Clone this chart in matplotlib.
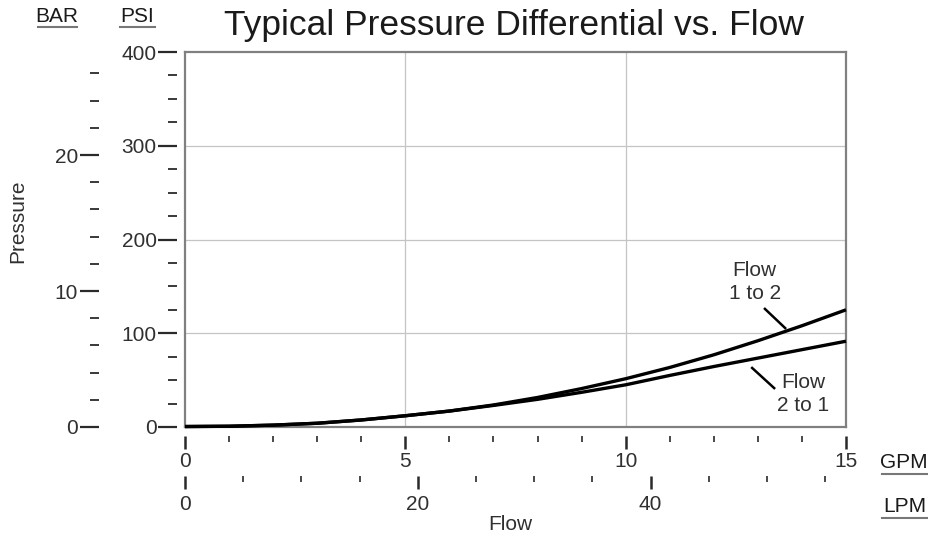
import matplotlib
matplotlib.use("Agg")
import matplotlib.pyplot as plt
from matplotlib.ticker import MultipleLocator, FixedLocator
from matplotlib.lines import Line2D

plt.rcParams["font.family"] = ["Liberation Sans", "DejaVu Sans"]

# flow in GPM, pressure in PSI
gpm = [0, 1, 2, 3, 4, 5, 6, 7, 8, 9, 10, 11, 12, 13, 14, 15]
psi_1to2 = [0.5, 0.8, 2, 4, 7.5, 12, 17, 23.5, 31.5, 41, 51.5, 63.5, 77, 92, 108, 125]
psi_2to1 = [0.5, 0.8, 2, 4, 7.5, 12, 17, 23, 29.5, 37, 45, 55, 64.5, 73.5, 82.5, 91.5]

PSI_PER_BAR = 14.5038
LPM_PER_GPM = 3.78541

W, H = 929, 542
fig = plt.figure(figsize=(W / 100, H / 100), dpi=100)
x0, x1, y0, y1 = 185, 846, 52, 427
ax = fig.add_axes([x0 / W, 1 - y1 / H, (x1 - x0) / W, (y1 - y0) / H])

ax.plot(gpm, psi_1to2, color="black", lw=2.4, solid_capstyle="butt", zorder=3, clip_on=False)
ax.plot(gpm, psi_2to1, color="black", lw=2.4, solid_capstyle="butt", zorder=3, clip_on=False)

ax.set_xlim(0, 15)
ax.set_ylim(0, 400)
ax.set_xticks([5, 10])
ax.set_yticks([100, 200, 300])
ax.grid(True, color="#c4c4c4", lw=0.9)
ax.tick_params(length=0, labelleft=False, labelbottom=False)
for s in ax.spines.values():
    s.set_color("#808080")
    s.set_linewidth(1.6)

tick_col = "#2a2a2a"
lab_col = "#303030"
fs = 15

# PSI scale
psi_ax = ax.secondary_yaxis(-8 / (x1 - x0))
psi_ax.yaxis.set_major_locator(MultipleLocator(100))
psi_ax.yaxis.set_minor_locator(MultipleLocator(25))
psi_ax.tick_params(which="major", length=14, width=1.6, color=tick_col, labelsize=fs,
                   labelcolor=lab_col, pad=0.5)
psi_ax.tick_params(which="minor", length=6.5, width=1.3, color=tick_col)

# BAR scale
bar_ax = ax.secondary_yaxis(-86 / (x1 - x0),
                            functions=(lambda p: p / PSI_PER_BAR, lambda b: b * PSI_PER_BAR))
bar_ax.yaxis.set_major_locator(FixedLocator([0, 10, 20]))
bar_ax.yaxis.set_minor_locator(MultipleLocator(2))
bar_ax.tick_params(which="major", length=14, width=1.6, color=tick_col, labelsize=fs,
                   labelcolor=lab_col, pad=1)
bar_ax.tick_params(which="minor", length=6.5, width=1.3, color=tick_col)

# GPM scale
gpm_ax = ax.secondary_xaxis(-9 / (y1 - y0))
gpm_ax.xaxis.set_major_locator(MultipleLocator(5))
gpm_ax.xaxis.set_minor_locator(MultipleLocator(1))
gpm_ax.tick_params(which="major", length=9.5, width=1.8, color=tick_col, labelsize=fs,
                   labelcolor=lab_col, pad=2)
gpm_ax.tick_params(which="minor", length=4.5, width=1.2, color=tick_col)

# LPM scale
lpm_ax = ax.secondary_xaxis(-49 / (y1 - y0),
                            functions=(lambda g: g * LPM_PER_GPM, lambda l: l / LPM_PER_GPM))
lpm_ax.xaxis.set_major_locator(MultipleLocator(20))
lpm_ax.xaxis.set_minor_locator(MultipleLocator(5))
lpm_ax.tick_params(which="major", length=9, width=1.8, color=tick_col, labelsize=fs,
                   labelcolor=lab_col, pad=5)
lpm_ax.tick_params(which="minor", length=4.5, width=1.2, color=tick_col)

for sa in (psi_ax, bar_ax, gpm_ax, lpm_ax):
    for s in sa.spines.values():
        s.set_visible(False)

# curve labels with leader lines
ax.text(12.93, 155, "Flow\n1 to 2", ha="center", va="center", fontsize=fs,
        linespacing=1.25, color=lab_col)
ax.plot([13.16, 13.62], [126, 105.5], color="black", lw=1.8)
ax.text(14.02, 35, "Flow\n2 to 1", ha="center", va="center", fontsize=fs,
        linespacing=1.25, color=lab_col)
ax.plot([12.87, 13.37], [63, 41.5], color="black", lw=1.8)

# titles and unit labels
fig.text(514 / W, 1 - 35 / H, "Typical Pressure Differential vs. Flow", ha="center",
         va="baseline", fontsize=25.5, color="#1a1a1a")
fig.text(18 / W, 1 - 221 / H, "Pressure", rotation=90, ha="center", va="center",
         fontsize=fs, color=lab_col)
fig.text(510 / W, 1 - 524 / H, "Flow", ha="center", va="center", fontsize=fs,
         color=lab_col)

units = [("BAR", 57, 17, 38, 77, 27), ("PSI", 137, 17, 120, 155, 27),
         ("GPM", 904, 463, 882, 929, 474), ("LPM", 905, 507, 882, 929, 518)]
for label, tx, ty, ux0, ux1, uy in units:
    fig.text(tx / W, 1 - ty / H, label, ha="center", va="center", fontsize=fs,
             color="#1a1a1a")
    fig.add_artist(Line2D([ux0 / W, ux1 / W], [1 - uy / H, 1 - uy / H],
                          color="#777777", lw=1.5))

fig.savefig("out.png", dpi=100)
